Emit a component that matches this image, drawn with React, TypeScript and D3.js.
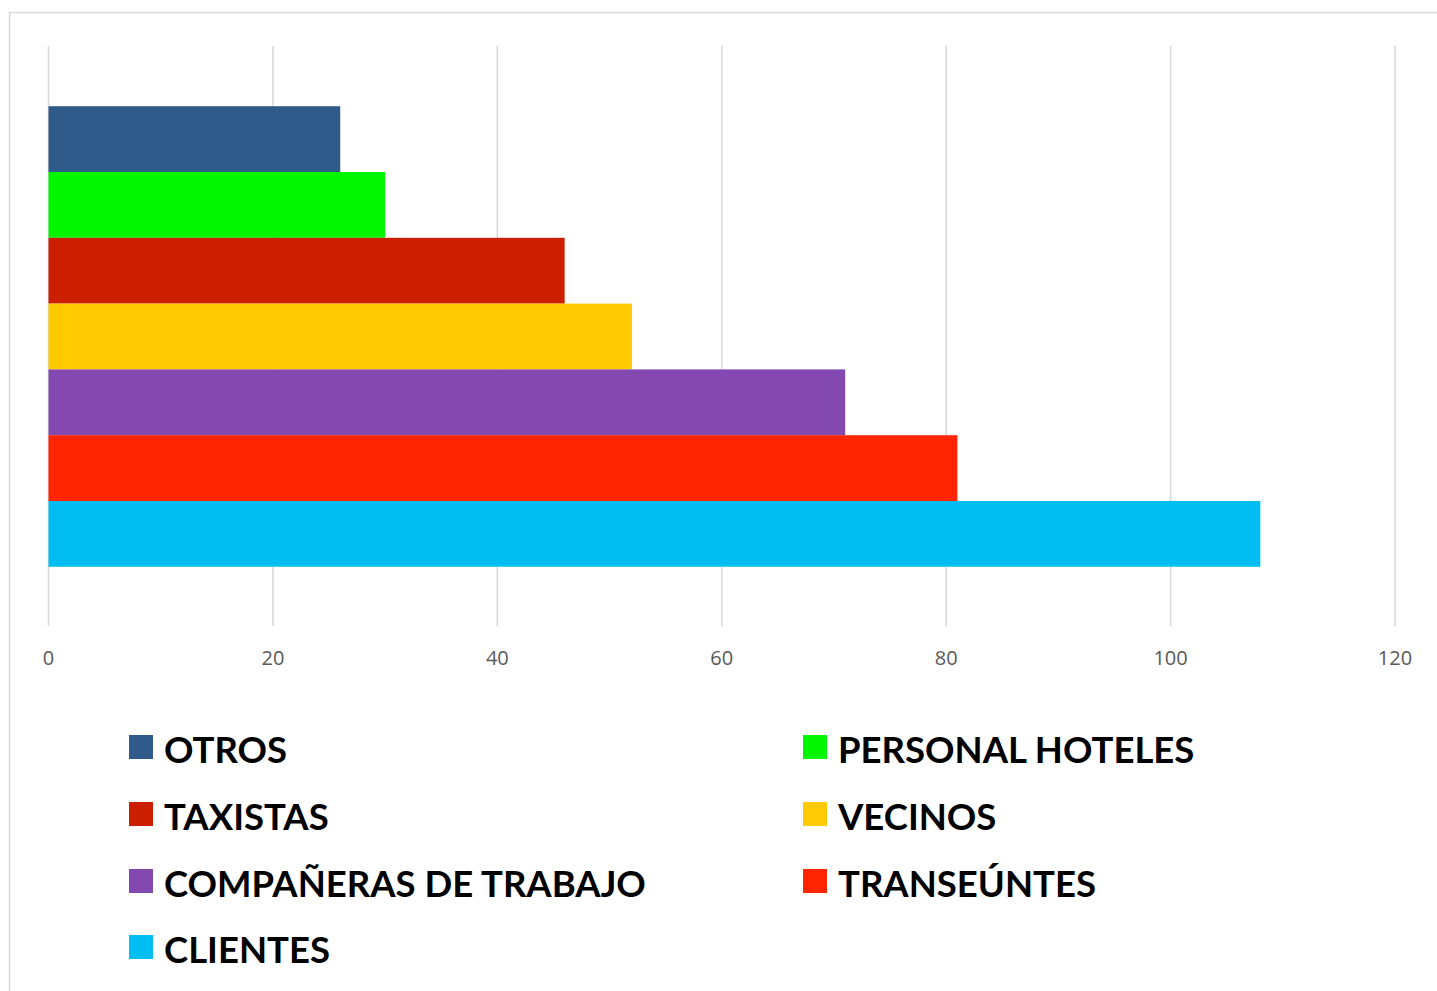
import React, { useEffect, useRef } from 'react';
import * as d3 from 'd3';

// chart data
const categories = ['OTROS', 'PERSONAL HOTELES', 'TAXISTAS', 'VECINOS', 'COMPAÑERAS DE TRABAJO', 'TRANSEÚNTES', 'CLIENTES'];
const values = [26, 30, 46, 52, 71, 81, 108];
const colors = ['#2F5A8A', '#00F700', '#CC1F00', '#FFCA00', '#8449B0', '#FF2500', '#00BEF2'];
const xTicks = [0, 20, 40, 60, 80, 100, 120];

const App = () => {
  const svgRef = useRef<SVGSVGElement | null>(null);

  useEffect(() => {
    if (!svgRef.current) return;
    const svg = d3.select(svgRef.current);
    svg.selectAll('*').remove();

    // outer frame (runs off the right and bottom edges)
    svg.append('rect')
      .attr('x', 9.5).attr('y', 12.5)
      .attr('width', 1440).attr('height', 1000)
      .attr('fill', 'none')
      .attr('stroke', '#d9d9d9')
      .attr('stroke-width', 1.5);

    const x = d3.scaleLinear().domain([0, 120]).range([48.5, 1395]);
    const y = d3.scaleBand<string>()
      .domain(categories)
      .range([47, 626])
      .paddingInner(0)
      .paddingOuter(0.9);

    // vertical gridlines
    svg.append('g')
      .selectAll('line')
      .data(xTicks)
      .join('line')
      .attr('x1', d => x(d)).attr('x2', d => x(d))
      .attr('y1', 46).attr('y2', 626)
      .attr('stroke', '#d9d9d9')
      .attr('stroke-width', 1.6);

    // tick labels
    svg.append('g')
      .selectAll('text')
      .data(xTicks)
      .join('text')
      .attr('x', d => x(d))
      .attr('y', 665)
      .attr('text-anchor', 'middle')
      .attr('font-family', '"Open Sans", sans-serif')
      .attr('font-size', 20)
      .attr('fill', '#595959')
      .text(d => String(d));

    // bars
    svg.append('g')
      .selectAll('rect')
      .data(values)
      .join('rect')
      .attr('x', x(0))
      .attr('y', (d, i) => y(categories[i])!)
      .attr('width', d => x(d) - x(0))
      .attr('height', y.bandwidth())
      .attr('fill', (d, i) => colors[i]);

    // legend, two columns
    const legend = svg.append('g');
    const colX = [129, 803];
    const rowY = [735, 802, 869, 935];
    categories.forEach((c, i) => {
      const lx = colX[i % 2];
      const ly = rowY[Math.floor(i / 2)];
      legend.append('rect')
        .attr('x', lx).attr('y', ly)
        .attr('width', 24).attr('height', 24)
        .attr('fill', colors[i]);
      legend.append('text')
        .attr('x', lx + 35)
        .attr('y', ly + 28)
        .attr('font-family', 'Lato, sans-serif')
        .attr('font-weight', 700)
        .attr('font-size', 36.5)
        .attr('fill', '#000')
        .text(c);
    });
  }, []);

  return (
    <div style={{ position: 'fixed', left: 0, top: 0, width: 1437, height: 991, overflow: 'hidden', background: '#fff' }}>
      <svg ref={svgRef} width={1437} height={991} style={{ display: 'block' }}></svg>
    </div>
  );
};

export default App;
